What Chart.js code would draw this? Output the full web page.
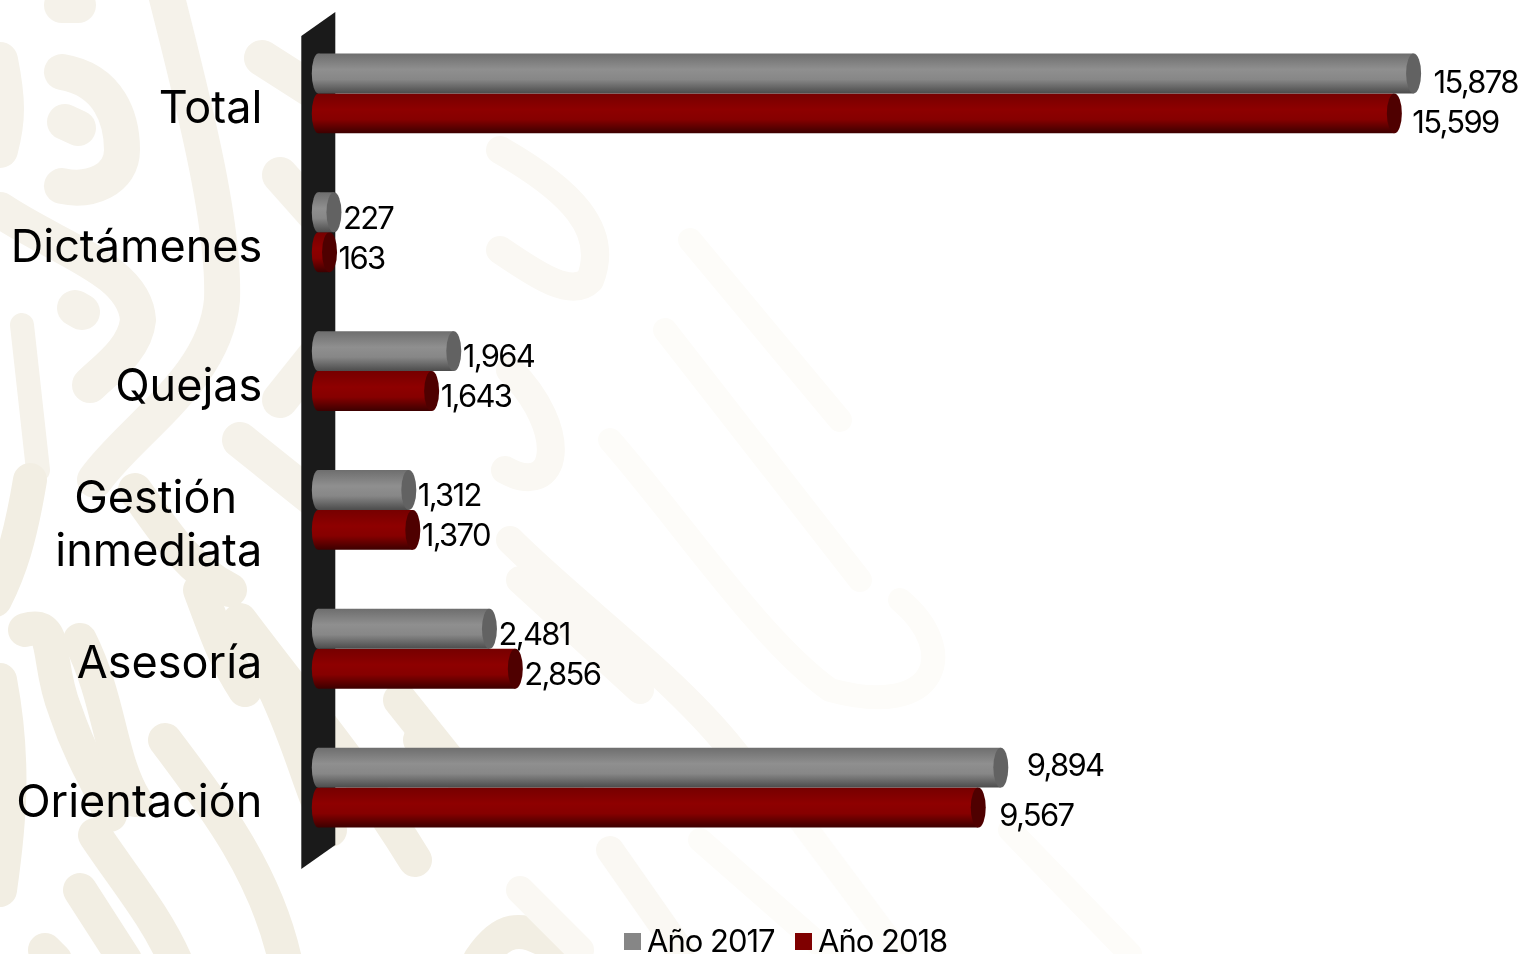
<!DOCTYPE html>
<html lang="es">
<head>
<meta charset="utf-8">
<title>Año 2017 / Año 2018</title>
<script src="https://cdn.jsdelivr.net/npm/chart.js@4"></script>
<style>
    html, body { margin: 0; padding: 0; background: #fff; overflow: hidden; }
    #wrap { position: relative; width: 1523px; height: 954px; }
    #wrap svg, #wrap canvas { position: absolute; left: 0; top: 0; }
</style>
</head>
<body>
<div id="wrap">
<svg width="1523" height="954" fill="none" stroke-linecap="round" stroke-linejoin="round">
    <g stroke="#f5f2ea" stroke-width="36">
        <path d="M165 -10 C190 90 225 220 222 300 C215 380 130 430 95 480"/>
        <path d="M62 72 C110 80 122 120 122 150 C122 180 90 192 62 186"/>
        <path d="M65 122 L78 128"/>
        <path d="M0 210 C60 250 135 270 138 320 C135 350 105 370 90 385"/>
        <path d="M75 308 L82 312"/>
        <path d="M0 60 C8 100 8 120 0 150"/>
        <path d="M22 325 L38 470" stroke-width="24"/>
        <path d="M62 5 L78 5"/>
        <path d="M262 58 L320 95"/>
        <path d="M280 175 L320 220"/>
        <path d="M240 440 L340 520"/>
        <path d="M280 400 L320 350"/>
    </g>
    <g stroke="#f2eee3" stroke-width="34">
        <path d="M30 480 C20 540 10 570 -5 600"/>
        <path d="M25 630 C60 620 45 660 65 710 C85 770 100 780 110 815"/>
        <path d="M80 640 C110 700 110 760 135 800"/>
        <path d="M0 680 C15 760 10 820 0 890"/>
        <path d="M165 740 C210 800 265 870 285 960"/>
        <path d="M95 835 C125 880 155 915 175 960"/>
        <path d="M80 890 L125 960"/>
        <path d="M200 590 C215 630 225 660 245 690"/>
        <path d="M240 620 C300 700 360 770 415 860"/>
        <path d="M45 950 L55 960"/>
        <path d="M135 490 C170 540 190 570 230 590"/>
        <path d="M270 680 C300 740 310 790 330 830"/>
        <path d="M420 740 C470 790 540 800 580 770"/>
        <path d="M480 960 C500 930 520 920 560 950"/>
        <path d="M400 700 L480 800"/>
    </g>
    <g stroke="#faf8f3" stroke-width="28">
        <path d="M520 580 L640 690"/>
        <path d="M510 540 C580 610 680 680 740 760"/>
        <path d="M610 850 L680 950"/>
        <path d="M520 890 L580 950"/>
        <path d="M500 150 C570 190 610 230 590 280 C570 300 530 270 500 250"/>
        <path d="M510 370 C570 430 560 500 505 470"/>
    </g>
    <g stroke="#fdfcf9" stroke-width="24">
        <path d="M610 440 C680 520 760 640 830 690 C940 720 960 650 900 600"/>
        <path d="M665 330 L860 580"/>
        <path d="M700 840 L830 954"/>
        <path d="M800 820 L900 954"/>
        <path d="M1010 830 L1130 954"/>
        <path d="M690 240 L840 420"/>
    </g>
</svg>
<canvas id="chart" width="1523" height="954"></canvas>
</div>

<script>
const categories = ['Total', 'Dictámenes', 'Quejas', ['Gestión\u00a0\u00a0', 'inmediata'], 'Asesoría', 'Orientación'];
const values2017 = [15878, 227, 1964, 1312, 2481, 9894];
const values2018 = [15599, 163, 1643, 1370, 2856, 9567];
const seriesNames = ['Año 2017', 'Año 2018'];

const axisMax = 17000;
const fontName = 'Inter, sans-serif';

// hand nudges for the value labels, [dx, dy] from the end of each cylinder
const labelNudge2017 = [[20, 10], [9, 7], [9, 7], [9, 7], [9, 7], [26, -1]];
const labelNudge2018 = [[18, 10], [9, 7], [9, 7], [9, 7], [9, 7], [21, 9]];

const shades = [
    { flat: '#868686', cap: '#626262', stops: ['#6e6e6e', '#8f8f8f', '#878787', '#4c4c4c'] },
    { flat: '#7f0000', cap: '#4f0000', stops: ['#760000', '#8e0000', '#860000', '#3c0000'] }
];

function cylinderFill(ctx) {
    const shade = shades[ctx.datasetIndex];
    const y = ctx.chart.scales.y;
    if (ctx.dataIndex === undefined || !y || !isFinite(y.height)) return shade.flat;
    const centre = y.getPixelForValue(ctx.dataIndex);
    if (!isFinite(centre)) return shade.flat;
    const thick = y.height / categories.length * 0.5755 / 2;
    const top = ctx.datasetIndex === 0 ? centre - thick : centre;
    const g = ctx.chart.ctx.createLinearGradient(0, top, 0, top + thick);
    g.addColorStop(0, shade.stops[0]);
    g.addColorStop(0.4, shade.stops[1]);
    g.addColorStop(0.65, shade.stops[2]);
    g.addColorStop(1, shade.stops[3]);
    return g;
}

// dark wall behind the bars
const wallPlugin = {
    id: 'wall',
    beforeDatasetsDraw(chart) {
        const a = chart.chartArea;
        const c = chart.ctx;
        c.save();
        c.fillStyle = '#1a1a1a';
        c.beginPath();
        c.moveTo(a.left - 17, a.top + 12);
        c.lineTo(a.left + 17, a.top - 12);
        c.lineTo(a.left + 17, a.bottom - 12);
        c.lineTo(a.left - 17, a.bottom + 12);
        c.closePath();
        c.fill();
        c.restore();
    }
};

// round ends of the cylinders, and the value labels
const cylinderPlugin = {
    id: 'cylinders',
    afterDatasetDraw(chart, args) {
        const c = chart.ctx;
        const shade = shades[args.index];
        c.save();
        args.meta.data.forEach(bar => {
            const ry = bar.height / 2;
            c.fillStyle = bar.options.backgroundColor;
            c.beginPath();
            c.ellipse(bar.base, bar.y, 6.5, ry, 0, 0, Math.PI * 2);
            c.fill();
            c.fillStyle = shade.cap;
            c.beginPath();
            c.ellipse(bar.x, bar.y, 7.5, ry, 0, 0, Math.PI * 2);
            c.fill();
        });
        c.restore();
    },
    afterDatasetsDraw(chart) {
        const c = chart.ctx;
        c.save();
        c.font = '31px ' + fontName;
        c.letterSpacing = '-1.7px';
        c.fillStyle = '#000';
        c.textAlign = 'left';
        c.textBaseline = 'middle';
        [labelNudge2017, labelNudge2018].forEach((nudges, i) => {
            chart.getDatasetMeta(i).data.forEach((bar, j) => {
                const v = chart.data.datasets[i].data[j];
                c.fillText(v.toLocaleString('en-US'), bar.x + nudges[j][0], bar.y + nudges[j][1]);
            });
        });
        c.restore();
    }
};

// legend at the foot, square close to its text
const footLegendPlugin = {
    id: 'footLegend',
    afterDraw(chart) {
        const c = chart.ctx;
        c.save();
        c.font = '31px ' + fontName;
        c.letterSpacing = '-1px';
        c.textBaseline = 'middle';
        c.textAlign = 'left';
        let x = 624;
        seriesNames.forEach((name, i) => {
            c.fillStyle = shades[i].flat;
            c.fillRect(x, 933, 17, 17);
            c.fillStyle = '#000';
            c.fillText(name, x + 23, 942.5);
            x += 171;
        });
        c.restore();
    }
};

new Chart(document.getElementById('chart'), {
    type: 'bar',
    data: {
        labels: categories,
        datasets: [
            { label: seriesNames[0], data: values2017, backgroundColor: cylinderFill, borderWidth: 0 },
            { label: seriesNames[1], data: values2018, backgroundColor: cylinderFill, borderWidth: 0 }
        ]
    },
    plugins: [wallPlugin, cylinderPlugin, footLegendPlugin],
    options: {
        indexAxis: 'y',
        responsive: false,
        animation: false,
        layout: { padding: { top: 24, right: 32, left: 0, bottom: 0 } },
        categoryPercentage: 0.5755,
        barPercentage: 1,
        plugins: { legend: { display: false }, tooltip: { enabled: false } },
        scales: {
            x: {
                min: 0,
                max: axisMax,
                grid: { display: false },
                border: { display: false },
                ticks: { display: false },
                afterFit(scale) { scale.height = 97; }
            },
            y: {
                grid: { display: false },
                border: { display: false },
                afterFit(scale) {
                    scale.width = 318.3;
                    scale.paddingTop = 0;
                    scale.paddingBottom = 0;
                },
                ticks: {
                    color: '#000',
                    padding: 48,
                    labelOffset: 16,
                    autoSkip: false,
                    font: { family: fontName, size: 45, lineHeight: 1.16 }
                }
            }
        }
    }
});
</script>
</body>
</html>
